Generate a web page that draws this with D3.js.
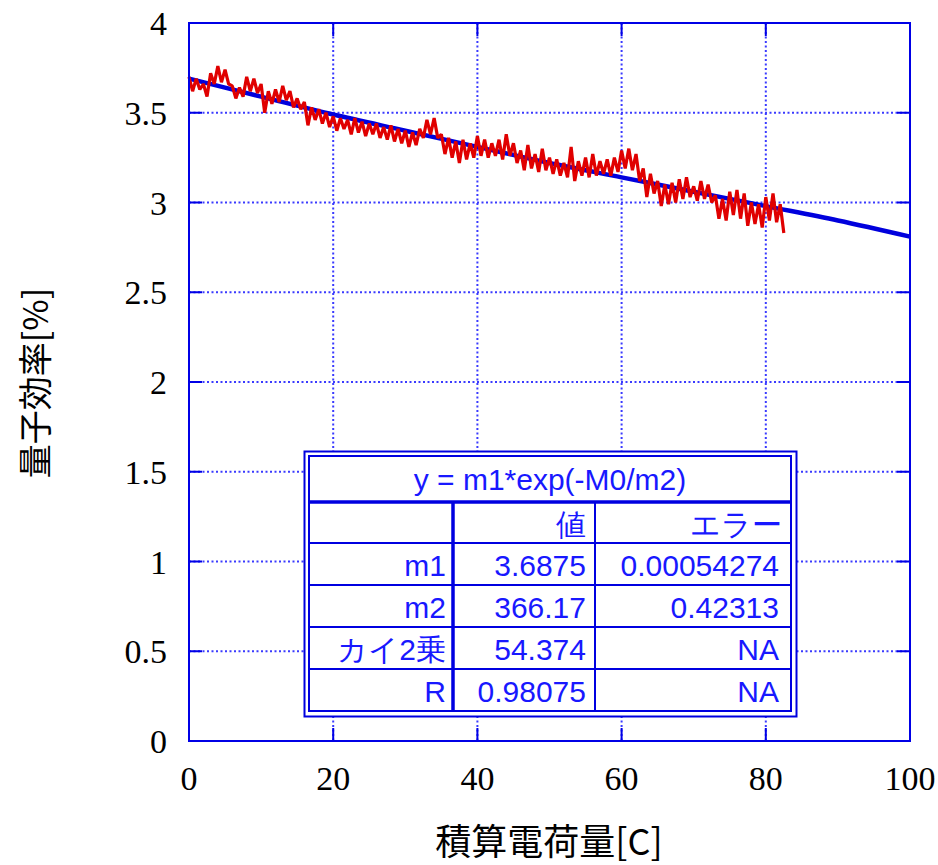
<!DOCTYPE html>
<html lang="ja">
<head>
<meta charset="utf-8">
<script src="https://d3js.org/d3.v7.min.js"></script>
<style>
  body { margin: 0; background: #fff; }
</style>
</head>
<body>
<svg width="938" height="865"></svg>
<script>
// fit curve, read every 10 C
const fitQ = [0, 10, 20, 30, 40, 50, 60, 70, 80, 90, 100];
const fitV = [3.69, 3.59, 3.49, 3.40, 3.31, 3.22, 3.14, 3.06, 2.98, 2.90, 2.81];

// measured data, one reading every 0.5 C from 0 C
const redStep = 0.5;
const redV = [
  3.70, 3.62, 3.69, 3.63, 3.66, 3.59, 3.72, 3.66, 3.76, 3.67,
  3.74, 3.66, 3.65, 3.58, 3.64, 3.59, 3.70, 3.62, 3.69, 3.61,
  3.66, 3.50, 3.62, 3.55, 3.63, 3.56, 3.65, 3.57, 3.62, 3.53,
  3.58, 3.52, 3.56, 3.43, 3.53, 3.46, 3.52, 3.44, 3.50, 3.42,
  3.48, 3.40, 3.47, 3.41, 3.46, 3.38, 3.47, 3.39, 3.45, 3.37,
  3.44, 3.38, 3.44, 3.36, 3.42, 3.35, 3.43, 3.34, 3.41, 3.33,
  3.40, 3.31, 3.39, 3.32, 3.41, 3.36, 3.46, 3.38, 3.47, 3.36,
  3.38, 3.27, 3.36, 3.25, 3.34, 3.22, 3.35, 3.24, 3.33, 3.25,
  3.37, 3.26, 3.35, 3.25, 3.33, 3.26, 3.35, 3.24, 3.38, 3.26,
  3.33, 3.22, 3.29, 3.18, 3.32, 3.19, 3.27, 3.17, 3.30, 3.18,
  3.25, 3.16, 3.24, 3.15, 3.22, 3.14, 3.31, 3.12, 3.23, 3.15,
  3.25, 3.14, 3.27, 3.15, 3.23, 3.16, 3.24, 3.15, 3.25, 3.17,
  3.29, 3.19, 3.30, 3.18, 3.27, 3.12, 3.19, 3.03, 3.16, 3.05,
  3.12, 2.98, 3.10, 2.99, 3.11, 3.00, 3.13, 3.02, 3.14, 3.03,
  3.09, 3.01, 3.12, 3.02, 3.10, 3.00, 3.04, 2.91, 3.02, 2.90,
  3.06, 2.93, 3.07, 2.91, 3.05, 2.87, 3.00, 2.88, 2.99, 2.86,
  3.03, 2.90, 3.05, 2.89, 2.99, 2.83
];

const xTicks = [0, 20, 40, 60, 80, 100];
const yTicks = [0, 0.5, 1, 1.5, 2, 2.5, 3, 3.5, 4];

const fitTitle = "y = m1*exp(-M0/m2)";
const tableHead = ["", "値", "エラー"];
const rowNames = ["m1", "m2", "カイ2乗", "R"];
const rowValues = ["3.6875", "366.17", "54.374", "0.98075"];
const rowErrors = ["0.00054274", "0.42313", "NA", "NA"];

const svg = d3.select("svg");
const pL = 189, pR = 910, pT = 23, pB = 741;

const x = d3.scaleLinear().domain([0, 100]).range([pL, pR]);
const y = d3.scaleLinear().domain([0, 4]).range([pB, pT]);

const axisBlue = "#0000e6";
const gridBlue = "#3a3aff";

// grid
const grid = svg.append("g");
grid.selectAll("line.gx")
  .data(xTicks.slice(1, -1))
  .join("line")
  .attr("x1", d => x(d)).attr("x2", d => x(d))
  .attr("y1", pT).attr("y2", pB)
  .attr("stroke", gridBlue).attr("stroke-width", 2)
  .attr("stroke-dasharray", "2,2.5");
grid.selectAll("line.gy")
  .data(yTicks.slice(1, -1))
  .join("line")
  .attr("x1", pL).attr("x2", pR)
  .attr("y1", d => y(d)).attr("y2", d => y(d))
  .attr("stroke", gridBlue).attr("stroke-width", 2)
  .attr("stroke-dasharray", "2,2.5");

// inner ticks (solid stubs)
const tickLen = 13;
const ticks = svg.append("g").attr("stroke", axisBlue).attr("stroke-width", 2);
xTicks.slice(1, -1).forEach(d => {
  ticks.append("line").attr("x1", x(d)).attr("x2", x(d)).attr("y1", pB).attr("y2", pB - tickLen);
  ticks.append("line").attr("x1", x(d)).attr("x2", x(d)).attr("y1", pT).attr("y2", pT + tickLen);
});
yTicks.slice(1, -1).forEach(d => {
  ticks.append("line").attr("x1", pL).attr("x2", pL + tickLen).attr("y1", y(d)).attr("y2", y(d));
  ticks.append("line").attr("x1", pR).attr("x2", pR - tickLen).attr("y1", y(d)).attr("y2", y(d));
});

// fit line
svg.append("path")
  .datum(fitQ.map((q, i) => [q, fitV[i]]))
  .attr("fill", "none")
  .attr("stroke", "#0000dd")
  .attr("stroke-width", 4.5)
  .attr("d", d3.line().x(d => x(d[0])).y(d => y(d[1])).curve(d3.curveMonotoneX));

// measured data
svg.append("path")
  .datum(redV.map((v, i) => [i * redStep, v]))
  .attr("fill", "none")
  .attr("stroke", "#e00000")
  .attr("stroke-width", 3.2)
  .attr("stroke-linejoin", "bevel")
  .attr("d", d3.line().x(d => x(d[0])).y(d => y(d[1])));

// frame
svg.append("rect")
  .attr("x", pL).attr("y", pT)
  .attr("width", pR - pL).attr("height", pB - pT)
  .attr("fill", "none").attr("stroke", axisBlue).attr("stroke-width", 2);

// tick labels
const serif = "'Liberation Serif', 'DejaVu Serif', serif";
svg.append("g").selectAll("text")
  .data(xTicks).join("text")
  .attr("x", d => x(d)).attr("y", 790)
  .attr("text-anchor", "middle")
  .attr("font-family", serif).attr("font-size", 34)
  .text(d => d);
svg.append("g").selectAll("text")
  .data(yTicks).join("text")
  .attr("x", 167).attr("y", d => y(d) + 12)
  .attr("text-anchor", "end")
  .attr("font-family", serif).attr("font-size", 34)
  .text(d => d);

// axis titles
const cjk = "'Noto Sans CJK JP', 'Noto Sans', sans-serif";
svg.append("text")
  .attr("x", 549).attr("y", 855)
  .attr("text-anchor", "middle")
  .attr("font-family", cjk).attr("font-size", 36)
  .text("積算電荷量[C]");
svg.append("text")
  .attr("transform", "translate(48,383) rotate(-90)")
  .attr("text-anchor", "middle")
  .attr("font-family", cjk).attr("font-size", 34)
  .text("量子効率[%]");

// fit table
const tb = svg.append("g");
const tBlue = "#0000e0", txtBlue = "#1818ff";
const tx0 = 309, tx1 = 791, ty0 = 456, ty1 = 711;
const colX = [tx0, 453, 595, tx1];
const rowY = [ty0, 502, 543, 585, 627, 669, ty1];
tb.append("rect").attr("x", 304.5).attr("y", 451.5).attr("width", 492).attr("height", 265)
  .attr("fill", "#fff").attr("stroke", tBlue).attr("stroke-width", 2);
tb.append("rect").attr("x", tx0).attr("y", ty0).attr("width", tx1 - tx0).attr("height", ty1 - ty0)
  .attr("fill", "none").attr("stroke", tBlue).attr("stroke-width", 2);
// horizontal rules
rowY.slice(1, -1).forEach((ry, i) => {
  tb.append("line").attr("x1", tx0).attr("x2", tx1).attr("y1", ry).attr("y2", ry)
    .attr("stroke", tBlue).attr("stroke-width", i === 0 ? 3.5 : 2);
});
// vertical rules
tb.append("line").attr("x1", colX[1]).attr("x2", colX[1]).attr("y1", rowY[1]).attr("y2", ty1)
  .attr("stroke", tBlue).attr("stroke-width", 3.5);
tb.append("line").attr("x1", colX[2]).attr("x2", colX[2]).attr("y1", rowY[1]).attr("y2", ty1)
  .attr("stroke", tBlue).attr("stroke-width", 2);

const tFont = "'Liberation Sans', 'DejaVu Sans', sans-serif";
const cell = (tx, ty, s, anchor) => tb.append("text")
  .attr("x", tx).attr("y", ty)
  .attr("text-anchor", anchor)
  .attr("font-family", tFont).attr("font-size", 30)
  .attr("fill", txtBlue).text(s);

cell((tx0 + tx1) / 2, 490, fitTitle, "middle");
tableHead.forEach((h, j) => { if (h) cell(colX[j + 1] - 9, rowY[2] - 8, h, "end"); });
rowNames.forEach((n, i) => {
  const by = rowY[i + 3] - 9;
  cell(colX[1] - 7, by, n, "end");
  cell(colX[2] - 9, by, rowValues[i], "end");
  cell(colX[3] - 12, by, rowErrors[i], "end");
});
</script>
</body>
</html>
